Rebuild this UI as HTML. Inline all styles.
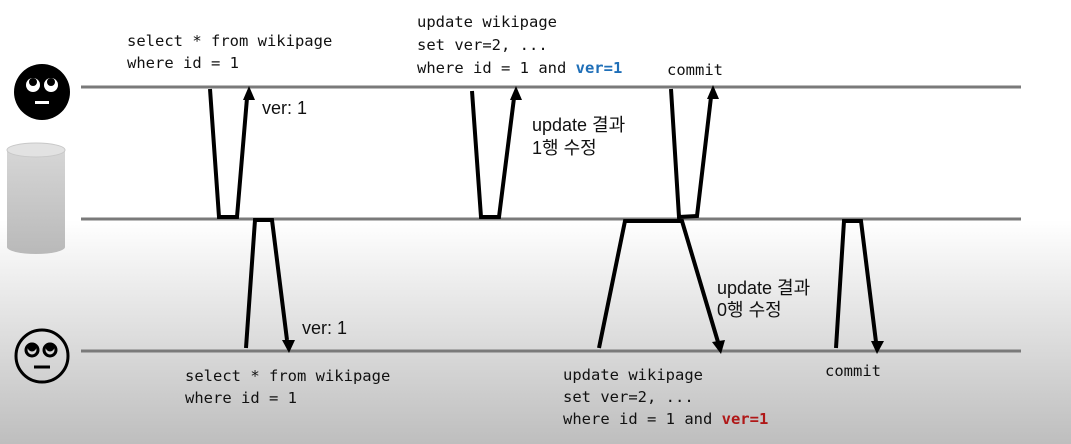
<!DOCTYPE html>
<html><head><meta charset="utf-8"><style>
html,body{margin:0;padding:0;width:1071px;height:444px;overflow:hidden;}
body{background:linear-gradient(to bottom,#fff 0px,#fff 220px,#bebebe 444px);}
.m{font-family:"DejaVu Sans Mono","Liberation Mono",monospace;font-size:15.5px;fill:#111;}
.k{font-family:"Liberation Sans","Noto Sans CJK KR",sans-serif;font-size:18px;fill:#111;}
</style></head><body>
<svg width="1071" height="444" viewBox="0 0 1071 444">
<defs>
<linearGradient id="cyl" x1="0" y1="0" x2="0" y2="1"><stop offset="0" stop-color="#d6d6d6"/><stop offset="1" stop-color="#b9b9b9"/></linearGradient>
</defs>
<g stroke="#7a7a7a" stroke-width="3">
<line x1="81" y1="87" x2="1021" y2="87"/>
<line x1="81" y1="219" x2="1021" y2="219"/>
<line x1="81" y1="351" x2="1021" y2="351"/>
</g>
<g>
<circle cx="42" cy="92" r="28" fill="#000"/>
<circle cx="33" cy="85" r="7" fill="#fff"/><circle cx="51" cy="85" r="7" fill="#fff"/>
<circle cx="33" cy="82" r="4" fill="#000"/><circle cx="51" cy="82" r="4" fill="#000"/>
<rect x="35" y="101" width="14" height="3" fill="#fff"/>
</g>
<g>
<path d="M7 150 L7 247 A29 7 0 0 0 65 247 L65 150 Z" fill="url(#cyl)"/>
<ellipse cx="36" cy="150" rx="29" ry="7" fill="#e2e2e2" stroke="#c8c8c8"/>
</g>
<g fill="none" stroke="#000" stroke-width="3">
<circle cx="42" cy="356" r="26"/>
<circle cx="32" cy="350" r="6"/><circle cx="50" cy="350" r="6"/>
<circle cx="32" cy="347" r="3" fill="#000"/><circle cx="50" cy="347" r="3" fill="#000"/>
<line x1="34" y1="367" x2="50" y2="367"/>
</g>
<g fill="none" stroke="#000" stroke-width="4" stroke-linejoin="miter">
<path d="M210 89 L219 217 L237 217 L247 98"/>
<path d="M472 91 L481 217 L499 217 L514 98"/>
<path d="M671 89 L679 217 L697 216 L711 97"/>
<path d="M246 348 L255 220 L272 220 L287 340"/>
<path d="M599 348 L625 221 L682 221 L718 342"/>
<path d="M836 348 L844 221 L861 221 L876 342"/>
</g>
<g fill="#000">
<polygon points="249,86 243,100 255,100"/>
<polygon points="516,86 510,100 522,100"/>
<polygon points="713,85 707,99 719,99"/>
<polygon points="289,353 282,340 295,340"/>
<polygon points="721,354 712,342 725,340"/>
<polygon points="877,354 871,341 884,341"/>
</g>
<g>
<text class="m" x="127" y="46">select * from wikipage</text>
<text class="m" x="127" y="68">where id = 1</text>
<text class="k" x="262" y="114">ver: 1</text>
<text class="m" x="417" y="27">update wikipage</text>
<text class="m" x="417" y="50">set ver=2, ...</text>
<text class="m" x="417" y="73">where id = 1 and <tspan fill="#1f6fb8" font-weight="bold">ver=1</tspan></text>
<text class="m" x="667" y="75">commit</text>
<text class="k" x="532" y="131">update 결과</text>
<text class="k" x="532" y="154">1행 수정</text>
<text class="k" x="302" y="334">ver: 1</text>
<text class="m" x="185" y="381">select * from wikipage</text>
<text class="m" x="185" y="403">where id = 1</text>
<text class="k" x="717" y="294">update 결과</text>
<text class="k" x="717" y="316">0행 수정</text>
<text class="m" x="563" y="380">update wikipage</text>
<text class="m" x="563" y="402">set ver=2, ...</text>
<text class="m" x="563" y="424">where id = 1 and <tspan fill="#b01818" font-weight="bold">ver=1</tspan></text>
<text class="m" x="825" y="376">commit</text>
</g>
</svg>
</body></html>
